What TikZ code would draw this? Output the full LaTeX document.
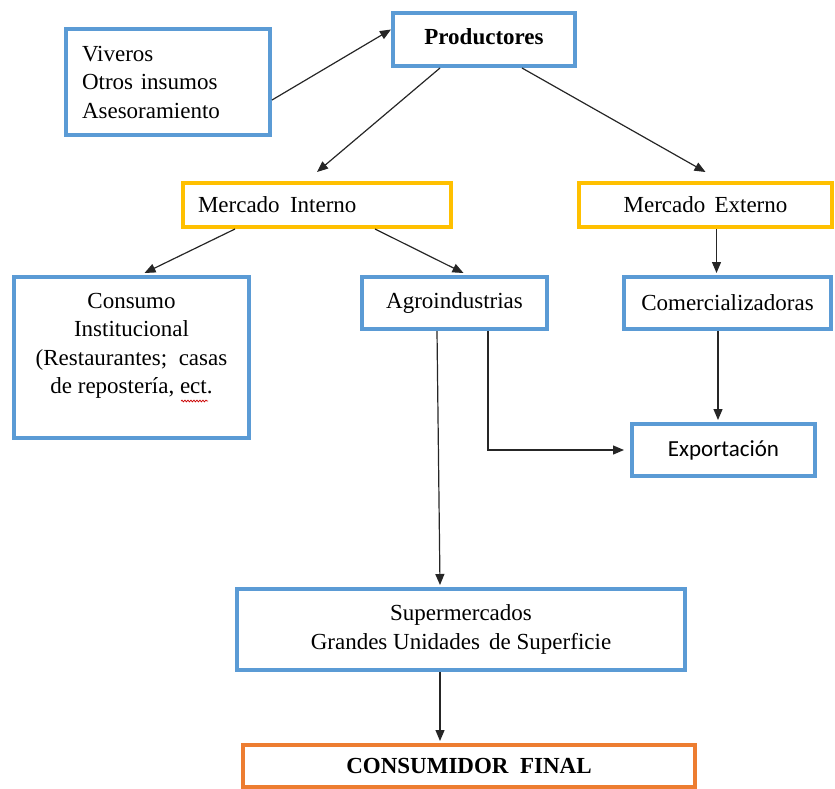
\documentclass[tikz,border=0pt]{standalone}
\usepackage{fontspec}
\setmainfont{Liberation Serif}
\newfontfamily\calibri{Carlito}
\usetikzlibrary{arrows.meta,decorations.pathmorphing}
\definecolor{bxblue}{HTML}{5B9BD5}
\definecolor{bxgold}{HTML}{FFC000}
\definecolor{bxorange}{HTML}{ED7D31}
\tikzset{
  box/.style={draw=#1, line width=4pt, rectangle, inner sep=0pt, fill=white},
  conn/.style={line width=1.2pt, draw=black!85, -{Triangle[length=11pt,width=9pt]}},
  txt/.style={font=\fontsize{23}{28.5}\selectfont}
}
\begin{document}
\begin{tikzpicture}[x=1pt,y=-1pt,txt]
\useasboundingbox (0,0) rectangle (835,788);

\node[box=bxblue, minimum width=204pt, minimum height=106pt, text width=172pt, align=left] (viv) at (168,82)
  {Viveros\\Otros insumos\\Asesoramiento};
\node[box=bxblue, minimum width=182pt, minimum height=53pt, font=\fontsize{23}{28.5}\selectfont\bfseries] (prod) at (484,39.5) {\raisebox{5pt}{Productores}};
\node[box=bxgold, minimum width=268pt, minimum height=44pt, text width=238pt, align=left] (mi) at (317,205) {Mercado\hspace{0.45em}Interno};
\node[box=bxgold, minimum width=253pt, minimum height=44pt] (me) at (705.5,205) {Mercado\hspace{0.4em}Externo};
\node[box=bxblue, minimum width=235pt, minimum height=161pt, align=center] (cons) at (131.5,357.5)
  {Consumo\\Institucional\\(Restaurantes;\hspace{0.5em}casas\\de repostería, ect.\\\mbox{}};
\node[box=bxblue, minimum width=185pt, minimum height=52pt] (agro) at (454.5,303) {Agroindustrias};
\node[box=bxblue, minimum width=207pt, minimum height=52pt] (com) at (727.5,303) {Comercializadoras};
\node[box=bxblue, minimum width=183pt, minimum height=52pt, font=\fontsize{23}{28.5}\calibri] (exp) at (723.5,450) {\raisebox{2pt}{Exportación}};
\node[box=bxblue, minimum width=448pt, minimum height=81pt, align=center] (sup) at (461,629.5)
  {Supermercados\\Grandes Unidades\hspace{0.4em}de Superficie};
\node[box=bxorange, minimum width=452pt, minimum height=42pt, font=\fontsize{23}{28.5}\selectfont\bfseries] (cf) at (469,766) {\raisebox{-4pt}{CONSUMIDOR\hspace{0.5em}FINAL}};

% spell-check squiggle
\draw[red!80!black, line width=0.7pt, decorate, decoration={snake, amplitude=0.9pt, segment length=3pt}] (181,401) -- (208,401);

\draw[conn] ([yshift=-18pt]viv.east) -- ([yshift=10pt]prod.west);
\draw[conn] ([xshift=-44pt]prod.south) -- ([yshift=9pt]mi.north);
\draw[conn] ([xshift=38pt]prod.south) -- ([yshift=9pt]me.north);
\draw[conn] ([xshift=-82pt]mi.south) -- ([xshift=13pt,yshift=2pt]cons.north);
\draw[conn] ([xshift=58pt]mi.south) -- ([xshift=9pt,yshift=2pt]agro.north);
\draw[conn] ([xshift=11pt]me.south) -- ([xshift=11pt,yshift=2pt]me.south |- com.north);
\draw[conn] ([xshift=-9.5pt]com.south) -- ([xshift=-9.5pt,yshift=2pt]com.south |- exp.north);
\draw[conn] ([xshift=33.5pt]agro.south) |- ([xshift=-6pt]exp.west);
\draw[conn] ([xshift=-17.5pt]agro.south) -- ([xshift=-21pt,yshift=2pt]sup.north);
\draw[conn] ([xshift=-21pt]sup.south) -- ([xshift=-21pt,yshift=2pt]sup.south |- cf.north);
\end{tikzpicture}
\end{document}
